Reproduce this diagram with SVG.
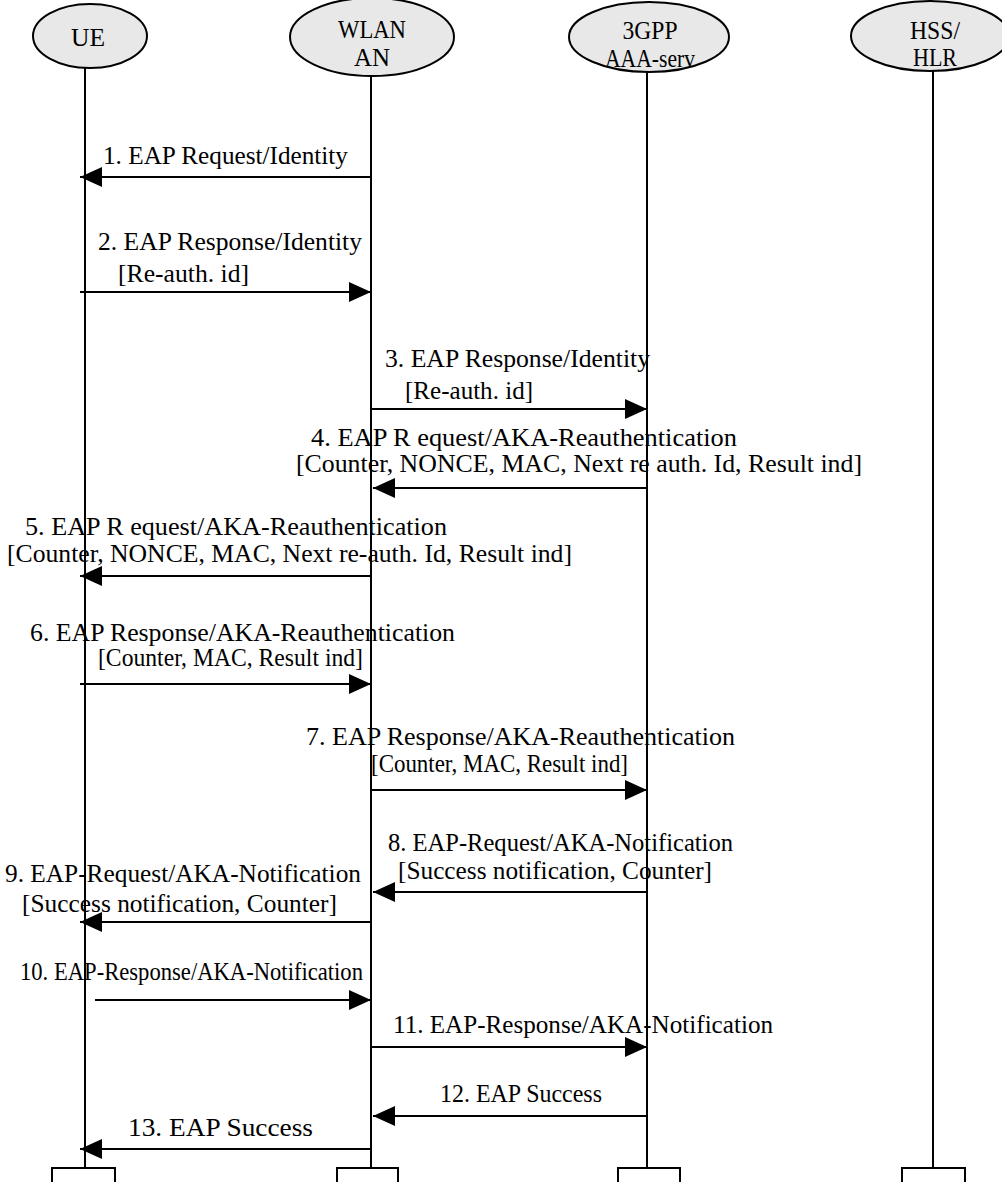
<svg xmlns="http://www.w3.org/2000/svg" width="1002" height="1182" viewBox="0 0 1002 1182">
<style>
.node ellipse{fill:#e8e8e8;stroke:#000;stroke-width:2}
.node rect{fill:#fff;stroke:#000;stroke-width:2}
.life{stroke:#000;stroke-width:2}
.msg{stroke:#000;stroke-width:2;fill:none;marker-end:url(#ah)}
text{font-family:"Liberation Serif","Times New Roman",serif;font-size:25px;fill:#000}
.nl{text-anchor:middle;font-size:26px}
</style>
<defs>
<marker id="ah" markerUnits="userSpaceOnUse" markerWidth="24" markerHeight="20" refX="22" refY="10" orient="auto">
<path d="M0,0 L22,10 L0,20 Z" fill="#000"/>
</marker>
</defs>
<rect width="1002" height="1182" fill="#fff"/>
<g id="node-ue" class="node">
<line class="life" x1="85" y1="68" x2="85" y2="1168"/>
<ellipse cx="90" cy="36" rx="57" ry="32"/>
<text class="nl" x="88" y="46" textLength="34" lengthAdjust="spacingAndGlyphs">UE</text>
<rect x="52" y="1168" width="63" height="20"/>
</g>
<g id="node-wlan" class="node">
<line class="life" x1="371" y1="76" x2="371" y2="1168"/>
<ellipse cx="372" cy="37" rx="82" ry="39"/>
<text class="nl" x="372" y="38" textLength="68" lengthAdjust="spacingAndGlyphs">WLAN</text>
<text class="nl" x="372" y="66" textLength="36" lengthAdjust="spacingAndGlyphs">AN</text>
<rect x="337" y="1168" width="61" height="20"/>
</g>
<g id="node-aaa" class="node">
<line class="life" x1="647" y1="72" x2="647" y2="1168"/>
<ellipse cx="649" cy="37" rx="80" ry="35"/>
<text class="nl" x="650" y="39" textLength="55" lengthAdjust="spacingAndGlyphs">3GPP</text>
<text class="nl" x="650" y="67" textLength="90" lengthAdjust="spacingAndGlyphs">AAA-serv</text>
<rect x="618" y="1168" width="62" height="20"/>
</g>
<g id="node-hss" class="node">
<line class="life" x1="933" y1="71" x2="933" y2="1168"/>
<ellipse cx="930" cy="36" rx="79" ry="35"/>
<text class="nl" x="935" y="39" textLength="50" lengthAdjust="spacingAndGlyphs">HSS/</text>
<text class="nl" x="935" y="66" textLength="44" lengthAdjust="spacingAndGlyphs">HLR</text>
<rect x="902" y="1168" width="63" height="20"/>
</g>
<g id="connectors">
<line class="msg" x1="371" y1="177" x2="80" y2="177"/>
<text x="103" y="164" textLength="245" lengthAdjust="spacingAndGlyphs">1. EAP Request/Identity</text>
<line class="msg" x1="80" y1="292" x2="371" y2="292"/>
<text x="98" y="250" textLength="264" lengthAdjust="spacingAndGlyphs">2. EAP Response/Identity</text>
<text x="118" y="282" textLength="131" lengthAdjust="spacingAndGlyphs">[Re-auth. id]</text>
<line class="msg" x1="371" y1="409" x2="647" y2="409"/>
<text x="385" y="367" textLength="265" lengthAdjust="spacingAndGlyphs">3. EAP Response/Identity</text>
<text x="405" y="399" textLength="128" lengthAdjust="spacingAndGlyphs">[Re-auth. id]</text>
<line class="msg" x1="647" y1="488" x2="373" y2="488"/>
<text x="311" y="446" textLength="426" lengthAdjust="spacingAndGlyphs">4. EAP R equest/AKA-Reauthentication</text>
<text x="296" y="472" textLength="566" lengthAdjust="spacingAndGlyphs">[Counter, NONCE, MAC, Next re auth. Id, Result ind]</text>
<line class="msg" x1="371" y1="576" x2="80" y2="576"/>
<text x="25" y="535" textLength="422" lengthAdjust="spacingAndGlyphs">5. EAP R equest/AKA-Reauthentication</text>
<text x="7" y="562" textLength="565" lengthAdjust="spacingAndGlyphs">[Counter, NONCE, MAC, Next re-auth. Id, Result ind]</text>
<line class="msg" x1="80" y1="684" x2="371" y2="684"/>
<text x="30" y="641" textLength="425" lengthAdjust="spacingAndGlyphs">6. EAP Response/AKA-Reauthentication</text>
<text x="98" y="666" textLength="265" lengthAdjust="spacingAndGlyphs">[Counter, MAC, Result ind]</text>
<line class="msg" x1="371" y1="790" x2="647" y2="790"/>
<text x="306" y="745" textLength="429" lengthAdjust="spacingAndGlyphs">7. EAP Response/AKA-Reauthentication</text>
<text x="371" y="772" textLength="257" lengthAdjust="spacingAndGlyphs">[Counter, MAC, Result ind]</text>
<line class="msg" x1="647" y1="892" x2="373" y2="892"/>
<text x="388" y="851" textLength="345" lengthAdjust="spacingAndGlyphs">8. EAP-Request/AKA-Notification</text>
<text x="398" y="879" textLength="314" lengthAdjust="spacingAndGlyphs">[Success notification, Counter]</text>
<line class="msg" x1="371" y1="922" x2="80" y2="922"/>
<text x="5" y="882" textLength="356" lengthAdjust="spacingAndGlyphs">9. EAP-Request/AKA-Notification</text>
<text x="22" y="912" textLength="315" lengthAdjust="spacingAndGlyphs">[Success notification, Counter]</text>
<line class="msg" x1="95" y1="1000" x2="371" y2="1000"/>
<text x="20" y="980" textLength="343" lengthAdjust="spacingAndGlyphs">10. EAP-Response/AKA-Notification</text>
<line class="msg" x1="371" y1="1047" x2="647" y2="1047"/>
<text x="393" y="1033" textLength="380" lengthAdjust="spacingAndGlyphs">11. EAP-Response/AKA-Notification</text>
<line class="msg" x1="647" y1="1116" x2="373" y2="1116"/>
<text x="440" y="1102" textLength="162" lengthAdjust="spacingAndGlyphs">12. EAP Success</text>
<line class="msg" x1="371" y1="1149" x2="80" y2="1149"/>
<text x="128" y="1136" textLength="185" lengthAdjust="spacingAndGlyphs">13. EAP Success</text>
</g>
</svg>
